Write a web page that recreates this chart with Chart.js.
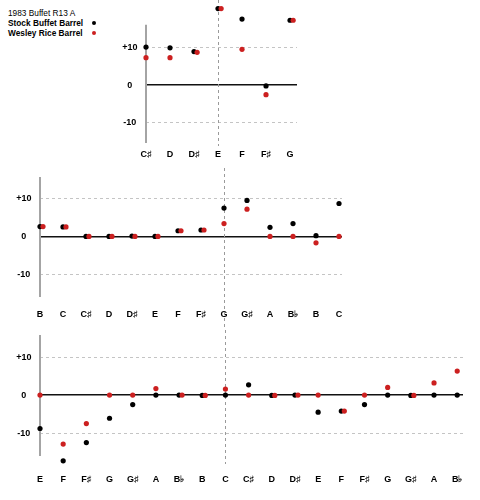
<!DOCTYPE html>
<html>
<head>
<meta charset="utf-8">
<script src="https://cdn.jsdelivr.net/npm/chart.js@4.4.1/dist/chart.umd.min.js"></script>
<style>
html,body{margin:0;padding:0;background:#fff;}
body{width:480px;height:500px;position:relative;overflow:hidden;font-family:Arial,"Liberation Sans",sans-serif;}
canvas{position:absolute;left:0;}
.lg{position:absolute;left:8px;font-size:8.3px;line-height:10px;color:#000;white-space:nowrap;}
.dot{position:absolute;left:92px;width:4px;height:4px;border-radius:50%;}
</style>
</head>
<body>
<div class="lg" id="lgTitle" style="top:8px;"></div>
<div class="lg" id="lgS0" style="top:18px;font-weight:bold;"></div>
<div class="lg" id="lgS1" style="top:28px;font-weight:bold;"></div>
<div class="dot" id="dot0" style="top:21px;"></div>
<div class="dot" id="dot1" style="top:31px;"></div>
<canvas id="c1" width="480" height="165" style="top:0px;"></canvas>
<canvas id="c2" width="480" height="165" style="top:165px;"></canvas>
<canvas id="c3" width="480" height="170" style="top:330px;"></canvas>
<script>
// ---- data ----
const legendTitle = '1983 Buffet R13 A';
const seriesNames = ['Stock Buffet Barrel', 'Wesley Rice Barrel'];

const yTickValues = [-10, 0, 10];
const yTickLabels = ['-10', '0', '+10'];

const notes1 = ['C♯', 'D', 'D♯', 'E', 'F', 'F♯', 'G'];
const stock1 = [10.1, 9.9, 8.9, 20.3, 17.5, -0.2, 17.2];
const rice1  = [7.3, 7.3, 8.7, 20.3, 9.5, -2.5, 17.2];

const notes2 = ['B', 'C', 'C♯', 'D', 'D♯', 'E', 'F', 'F♯', 'G', 'G♯', 'A', 'B♭', 'B', 'C'];
const stock2 = [2.6, 2.5, 0, 0, 0.1, 0, 1.5, 1.7, 7.5, 9.5, 2.4, 3.4, 0.2, 8.7];
const rice2  = [2.6, 2.5, 0, 0, 0, 0, 1.5, 1.7, 3.4, 7.2, 0, 0, -1.7, 0];

const notes3 = ['E', 'F', 'F♯', 'G', 'G♯', 'A', 'B♭', 'B', 'C', 'C♯', 'D', 'D♯', 'E', 'F', 'F♯', 'G', 'G♯', 'A', 'B♭'];
const stock3 = [-8.8, -17.3, -12.5, -6.1, -2.5, 0, 0, -0.1, 0, 2.7, -0.1, 0, -4.5, -4.2, -2.5, 0, -0.1, 0, 0];
const rice3  = [0, -12.9, -7.5, 0, 0, 1.7, 0, -0.1, 1.6, 0, -0.1, 0, 0, -4.2, 0, 2.0, -0.1, 3.2, 6.3];

// index of the note marked by the vertical dashed line in each panel
const dividerIndex = [3, 8, 8];

// ---- styles ----
const BLACK = '#000000';
const RED = '#cc2020';
const FONT = {family: 'Arial, "Liberation Sans", sans-serif', size: 9, weight: 'bold'};

document.getElementById('lgTitle').textContent = legendTitle;
document.getElementById('lgS0').textContent = seriesNames[0];
document.getElementById('lgS1').textContent = seriesNames[1];
document.getElementById('dot0').style.background = BLACK;
document.getElementById('dot1').style.background = RED;

const panelPlugin = {
  id: 'panel',
  beforeDatasetsDraw(chart, args, opts) {
    const ctx = chart.ctx;
    const xs = chart.scales.x, ys = chart.scales.y;
    // vertical dashed divider
    const x = Math.round(xs.getPixelForValue(opts.index)) + 0.5;
    ctx.save();
    ctx.strokeStyle = '#9a9a9a';
    ctx.lineWidth = 1;
    ctx.setLineDash([3, 3]);
    ctx.beginPath();
    ctx.moveTo(x, opts.divTop);
    ctx.lineTo(x, opts.divBottom);
    ctx.stroke();
    ctx.restore();
    // y axis line over a limited value range
    const ax = chart.chartArea.left;
    ctx.save();
    ctx.strokeStyle = '#a4a4a4';
    ctx.lineWidth = 2;
    ctx.beginPath();
    ctx.moveTo(ax, ys.getPixelForValue(opts.axisTop));
    ctx.lineTo(ax, ys.getPixelForValue(opts.axisBottom));
    ctx.stroke();
    ctx.restore();
  }
};

function noScalePadding(s) {
  s.paddingTop = 0; s.paddingBottom = 0; s.paddingLeft = 0; s.paddingRight = 0;
}

function makeChart(id, notes, stock, rice, divIdx, cfg) {
  const nudge = 0.13;
  const blackPts = stock.map((v, i) => ({x: i, y: v}));
  const redPts = rice.map((v, i) => ({x: i + (Math.abs(v - stock[i]) < 0.5 ? nudge : 0), y: v}));
  return new Chart(document.getElementById(id), {
    type: 'scatter',
    data: {
      datasets: [
        {label: seriesNames[1], data: redPts, backgroundColor: RED, borderWidth: 0, pointRadius: 2.6, order: 0, clip: false},
        {label: seriesNames[0], data: blackPts, backgroundColor: BLACK, borderWidth: 0, pointRadius: 2.6, order: 1, clip: false}
      ]
    },
    options: {
      responsive: false,
      animation: false,
      events: [],
      layout: {padding: {top: cfg.top, left: 0, right: cfg.right, bottom: 0}},
      plugins: {
        legend: {display: false},
        tooltip: {enabled: false},
        panel: {index: divIdx, divTop: cfg.divTop, divBottom: cfg.divBottom, axisTop: cfg.axisTop, axisBottom: cfg.axisBottom}
      },
      scales: {
        x: {
          type: 'linear',
          min: 0,
          max: notes.length - 1 + cfg.xPad,
          afterBuildTicks: s => { s.ticks = notes.map((n, i) => ({value: i})); },
          afterFit: s => { s.height = cfg.xH; noScalePadding(s); },
          ticks: {autoSkip: false, maxRotation: 0, minRotation: 0, padding: cfg.xLabelPad, font: FONT, color: '#000',
                  callback: v => notes[v]},
          grid: {display: false, drawTicks: false},
          border: {display: false}
        },
        y: {
          type: 'linear',
          min: cfg.yMin,
          max: cfg.yMax,
          afterBuildTicks: s => { s.ticks = yTickValues.map(v => ({value: v})); },
          afterFit: s => { s.width = cfg.yW; noScalePadding(s); },
          ticks: {crossAlign: 'center', padding: 8.5, font: FONT, color: '#000',
                  callback: v => yTickLabels[yTickValues.indexOf(v)]},
          grid: {
            drawTicks: false,
            color: c => (c.tick && c.tick.value === 0) ? '#111111' : '#c4c4c4',
            lineWidth: c => (c.tick && c.tick.value === 0) ? 1.5 : 1
          },
          border: {
            display: false,
            dash: c => (c.tick && c.tick.value !== 0) ? [3, 3] : []
          }
        }
      }
    },
    plugins: [panelPlugin]
  });
}

makeChart('c1', notes1, stock1, rice1, dividerIndex[0],
  {top: 3, right: 183, xH: 22, yW: 146, yMin: -15.3, yMax: 21.5, axisTop: 16, axisBottom: -15.3,
   xPad: 0.29, xLabelPad: 6.6, divTop: 0, divBottom: 146});
makeChart('c2', notes2, stock2, rice2, dividerIndex[1],
  {top: 12, right: 138, xH: 33, yW: 40, yMin: -16, yMax: 15.7, axisTop: 15.7, axisBottom: -16,
   xPad: 0.13, xLabelPad: 11.9, divTop: 3, divBottom: 165});
makeChart('c3', notes3, stock3, rice3, dividerIndex[2],
  {top: 5, right: 17, xH: 36.5, yW: 40, yMin: -18, yMax: 15.8, axisTop: 15.8, axisBottom: -16,
   xPad: 0.25, xLabelPad: 11.1, divTop: 0, divBottom: 134});
</script>
</body>
</html>
